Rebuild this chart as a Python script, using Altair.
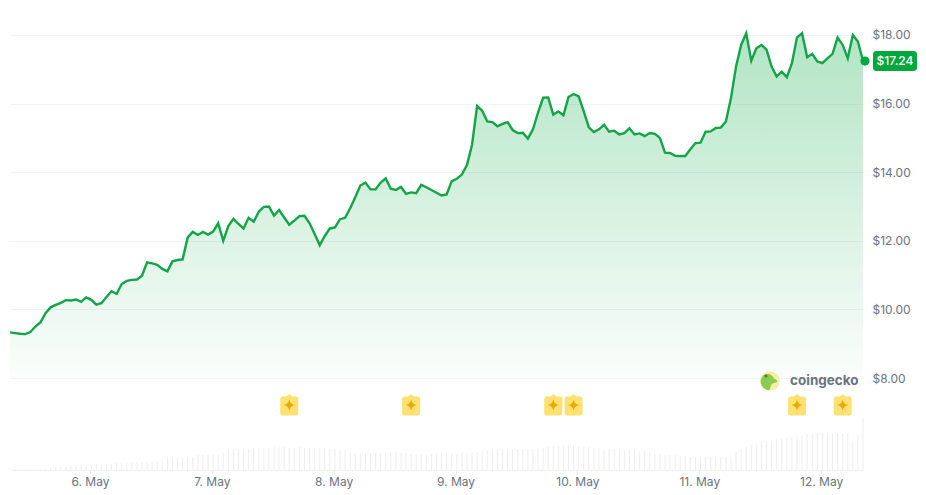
import altair as alt
import pandas as pd

prices = [
    9.33, 9.31, 9.29, 9.28, 9.34, 9.50, 9.62, 9.89, 10.06, 10.13,
    10.19, 10.27, 10.26, 10.29, 10.22, 10.35, 10.28, 10.14, 10.18, 10.36,
    10.53, 10.45, 10.74, 10.83, 10.86, 10.87, 10.98, 11.37, 11.34, 11.30,
    11.18, 11.11, 11.40, 11.44, 11.46, 12.10, 12.26, 12.17, 12.26, 12.18,
    12.27, 12.51, 12.00, 12.43, 12.64, 12.49, 12.36, 12.67, 12.56, 12.85,
    12.99, 13.00, 12.73, 12.90, 12.68, 12.47, 12.59, 12.72, 12.73, 12.51,
    12.20, 11.87, 12.14, 12.36, 12.39, 12.63, 12.67, 12.95, 13.27, 13.61,
    13.70, 13.50, 13.50, 13.70, 13.82, 13.52, 13.48, 13.57, 13.37, 13.41,
    13.39, 13.63, 13.56, 13.48, 13.40, 13.32, 13.35, 13.74, 13.81, 13.93,
    14.21, 14.80, 15.93, 15.79, 15.48, 15.46, 15.34, 15.41, 15.46, 15.23,
    15.14, 15.15, 14.98, 15.25, 15.74, 16.17, 16.18, 15.68, 15.77, 15.66,
    16.19, 16.28, 16.21, 15.77, 15.31, 15.17, 15.25, 15.38, 15.18, 15.21,
    15.10, 15.14, 15.28, 15.10, 15.13, 15.05, 15.14, 15.12, 15.00, 14.57,
    14.56, 14.48, 14.47, 14.47, 14.67, 14.85, 14.86, 15.18, 15.19, 15.29,
    15.30, 15.48, 16.16, 17.08, 17.71, 18.05, 17.25, 17.61, 17.71, 17.57,
    17.08, 16.79, 16.93, 16.77, 17.18, 17.93, 18.05, 17.35, 17.45, 17.23,
    17.18, 17.32, 17.45, 17.93, 17.71, 17.32, 18.00, 17.81, 17.24,
]
volumes = [
    1, 1, 1, 1, 1, 1, 1, 1, 3, 3,
    3, 3, 4, 4, 5, 5, 5, 6, 6, 6,
    6, 7, 7, 7, 7, 8, 8, 8, 9, 9,
    9, 12, 12, 12, 12, 12, 13, 15, 15, 15,
    16, 16, 17, 20, 21, 21, 21, 21, 22, 22,
    22, 22, 23, 23, 23, 22, 22, 23, 22, 22,
    22, 22, 22, 21, 21, 21, 20, 17, 16, 16,
    17, 17, 17, 17, 17, 18, 18, 17, 17, 16,
    16, 16, 16, 16, 16, 16, 16, 16, 16, 17,
    17, 18, 18, 19, 20, 21, 21, 21, 21, 21,
    21, 21, 21, 21, 21, 22, 23, 24, 24, 24,
    25, 25, 24, 23, 23, 22, 22, 21, 21, 21,
    21, 20, 20, 20, 19, 19, 18, 16, 16, 15,
    15, 15, 14, 14, 13, 13, 13, 13, 13, 13,
    13, 13, 13, 18, 21, 24, 25, 26, 29, 29,
    29, 31, 32, 32, 33, 34, 35, 36, 37, 37,
    37, 37, 37, 37, 37, 37, 29, 35, 52,
]
times = pd.date_range("2025-05-05T08:15:00Z", periods=len(prices), freq="h").strftime("%Y-%m-%dT%H:%M:%SZ").tolist()
price_ticks = [8, 10, 12, 14, 16, 18]
day_ticks = [6, 7, 8, 9, 10, 11, 12]
event_hours = [55, 79, 107, 111, 155, 164]
event_price = 7.21

FONT = "Inter"
GREEN = "#00a83e"
LINE = "#12a548"
GREY = "#6b7280"
PRICE_DOMAIN = [5.318, 18.437]

df = pd.DataFrame({"t": times, "price": prices, "vol": volumes, "base": 8.0, "zero": 0})
events = pd.DataFrame({"t": [times[i] for i in event_hours], "p": event_price})
last = pd.DataFrame({"t": [times[-1]], "p": [prices[-1]], "top": [17.53], "bot": [16.95], "label": ["$17.24"]})

x_scale = alt.Scale(type="utc", domain=[times[0], times[-1]], nice=False)
y_scale = alt.Scale(domain=PRICE_DOMAIN, nice=False, zero=False)
x_axis = alt.Axis(
    values=[alt.DateTime(year=2025, month=5, date=d, utc=True) for d in day_ticks],
    labelExpr="utcFormat(datum.value, '%-d. %b')", grid=False,
    domain=True, domainColor="#eef0f2", domainWidth=1,
    ticks=True, tickColor="#e5e7eb", tickSize=4,
    labelFont=FONT, labelFontSize=12, labelColor=GREY, labelPadding=2, labelFlush=False,
    title=None,
)
x_enc = alt.X("t:T", scale=x_scale, title=None, axis=x_axis)
y_none = alt.Y("price:Q", scale=y_scale, axis=None, title=None)

area = alt.Chart(df).mark_area(
    interpolate="linear",
    line=False,
    color=alt.Gradient(
        gradient="linear",
        stops=[
            alt.GradientStop(color="rgba(0,168,62,0.30)", offset=0),
            alt.GradientStop(color="rgba(0,168,62,0.015)", offset=1),
        ],
        x1=0, x2=0, y1=0, y2=1,
    ),
).encode(
    x=x_enc,
    y=alt.Y(
        "price:Q", scale=y_scale, title=None,
        axis=alt.Axis(
            orient="right", values=price_ticks, format="$.2f", grid=True, gridColor="#f2f3f5", gridWidth=1,
            domain=False, ticks=False, labelPadding=9,
            labelFont=FONT, labelFontSize=12, labelColor=GREY,
        ),
    ),
    y2="base:Q",
)

line = alt.Chart(df).mark_line(color=LINE, strokeWidth=2.4, interpolate="linear").encode(x=x_enc, y=y_none)

vol_bars = alt.Chart(df).mark_rule(color="#eeeef1", strokeWidth=1).encode(
    x=x_enc,
    y=alt.Y("vol:Q", scale=alt.Scale(domain=[0, 450], nice=False), axis=None, title=None),
    y2="zero:Q",
)

TAG = ("M0,-1.2 L0.35,-0.95 L0.75,-0.95 Q1,-0.95 1,-0.7 L1,0.9 Q1,1.15 0.75,1.15 "
       "L-0.75,1.15 Q-1,1.15 -1,0.9 L-1,-0.7 Q-1,-0.95 -0.75,-0.95 L-0.35,-0.95 Z")
STAR = "M0,-1 Q0.15,-0.15 1,0 Q0.15,0.15 0,1 Q-0.15,0.15 -1,0 Q-0.15,-0.15 0,-1 Z"
y_ev = alt.Y("p:Q", scale=y_scale, axis=None, title=None)
tags = alt.Chart(events).mark_point(shape=TAG, filled=True, color="#fde272", size=324, opacity=1).encode(x=x_enc, y=y_ev)
stars = alt.Chart(events).mark_point(shape=STAR, filled=True, color="#eaaa08", size=130, opacity=1).encode(x=x_enc, y=y_ev)

dot = alt.Chart(last).mark_point(filled=True, color=GREEN, size=85, opacity=1).encode(x=alt.value(855), y=y_ev)
badge = alt.Chart(last).mark_rect(color=GREEN, cornerRadius=3).encode(
    x=alt.value(863), x2=alt.value(907),
    y=alt.Y("top:Q", scale=y_scale, axis=None, title=None), y2="bot:Q",
)
badge_text = alt.Chart(last).mark_text(font=FONT, fontSize=12, fontWeight=500, color="white", align="center", baseline="middle").encode(
    x=alt.value(885), y=y_ev, text="label:N",
)

BLOB = ("M-0.35,-0.95 C0.1,-1.05 0.5,-0.75 0.6,-0.4 C0.95,-0.3 1.05,-0.05 0.95,0 "
        "C0.6,0.15 0.35,0.15 0.25,0.4 C0.15,0.7 0.1,0.9 0,1 C-0.5,0.95 -1,0.5 -1,-0.05 C-1,-0.5 -0.75,-0.85 -0.35,-0.95 Z")
logo_df = pd.DataFrame({"name": ["coingecko"]})
logo_ring = alt.Chart(logo_df).mark_point(shape="circle", filled=True, color="#f6eea6", size=380, opacity=1).encode(
    x=alt.value(760), y=alt.value(361))
logo_blob = alt.Chart(logo_df).mark_point(shape=BLOB, filled=True, color="#8ccb4f", size=280, opacity=1).encode(
    x=alt.value(759), y=alt.value(362))
logo_eye = alt.Chart(logo_df).mark_point(shape="circle", filled=True, color="#4f7f3a", size=10, opacity=1).encode(
    x=alt.value(756), y=alt.value(356))
logo_text = alt.Chart(logo_df).mark_text(font=FONT, fontSize=13.5, fontWeight=700, color=GREY, align="left", baseline="middle").encode(
    x=alt.value(780), y=alt.value(361), text="name:N")

chart = alt.layer(
    area, vol_bars, line, tags, stars, dot, badge, badge_text, logo_ring, logo_blob, logo_eye, logo_text
).resolve_scale(y="independent").properties(
    width=853, height=450, padding={"left": 2, "top": 12, "right": 55, "bottom": 22},
    autosize=alt.AutoSizeParams(type="none"),
    background="white",
).configure_view(stroke=None)

chart.save("out.html", embed_options={"renderer": "svg", "actions": False})
